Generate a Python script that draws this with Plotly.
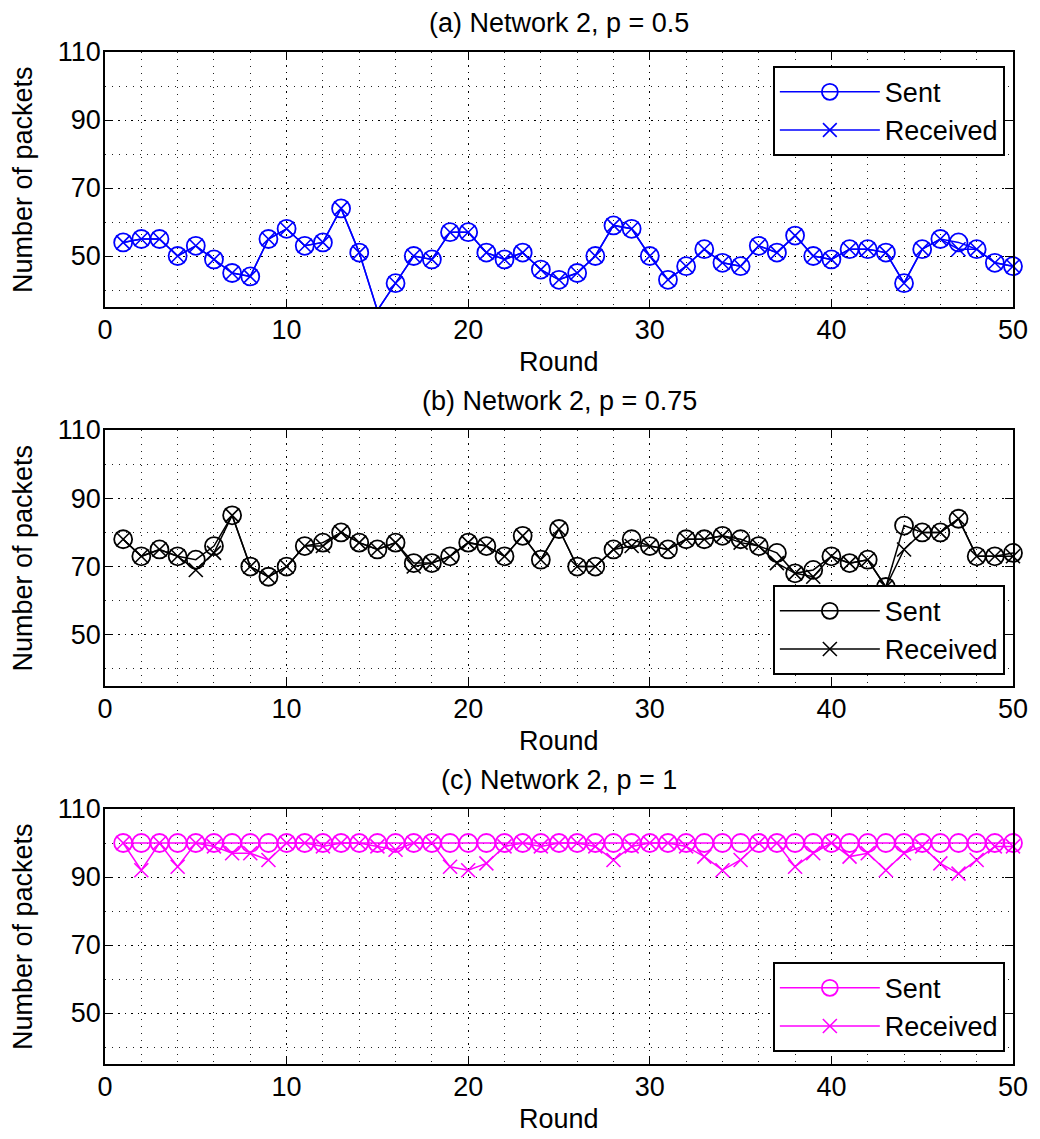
import plotly.graph_objects as go

rounds = list(range(1, 51))

sent_a = [54, 55, 55, 50, 53, 49, 45, 44, 55, 58,
          53, 54, 64, 51, 34, 42, 50, 49, 57, 57,
          51, 49, 51, 46, 43, 45, 50, 59, 58, 50,
          43, 47, 52, 48, 47, 53, 51, 56, 50, 49,
          52, 52, 51, 42, 52, 55, 54, 52, 48, 47]
recv_a = [54, 55, 55, 50, 53, 49, 45, 44, 55, 58,
          53, 54, 64, 51, 34, 42, 50, 49, 57, 57,
          51, 49, 51, 46, 43, 45, 50, 59, 58, 50,
          43, 47, 52, 48, 47, 53, 51, 56, 50, 49,
          52, 52, 51, 42, 52, 55, 52, 52, 48, 47]

sent_b = [78, 73, 75, 73, 72, 76, 85, 70, 67, 70,
          76, 77, 80, 77, 75, 77, 71, 71, 73, 77,
          76, 73, 79, 72, 81, 70, 70, 75, 78, 76,
          75, 78, 78, 79, 78, 76, 74, 68, 69, 73,
          71, 72, 64, 82, 80, 80, 84, 73, 73, 74]
recv_b = [78, 73, 75, 73, 69, 74, 85, 70, 67, 70,
          76, 76, 80, 77, 75, 77, 70, 71, 73, 77,
          76, 73, 79, 72, 81, 70, 70, 75, 76, 76,
          75, 78, 78, 79, 77, 76, 71, 68, 67, 73,
          71, 72, 64, 75, 80, 80, 84, 73, 73, 73]

sent_c = [100] * 50
recv_c = [100, 92, 100, 93, 100, 99, 97, 97, 95, 100,
          100, 99, 100, 100, 99, 98, 100, 100, 93, 92,
          94, 99, 100, 99, 100, 100, 99, 95, 99, 100,
          100, 99, 96, 92, 95, 100, 100, 93, 97, 100,
          96, 97, 92, 97, 99, 94, 91, 95, 99, 99]

titles = ["(a) Network 2, p = 0.5", "(b) Network 2, p = 0.75", "(c) Network 2, p = 1"]
series_names = ["Sent", "Received"]
x_label = "Round"
y_label = "Number of packets"

X_RANGE = [0, 50]
Y_RANGE = [35, 110]

W, H = 1040, 1139
ML, MR, MT, MB = 105, 21, 52, 75
PW = W - ML - MR
PH = H - MT - MB
BOTTOM = H - MB

def py(Y):
    return (BOTTOM - Y) / PH

def px(X):
    return (X - ML) / PW

FONT = "Liberation Sans, Arial, Helvetica, sans-serif"
FS = 27

panels = [
    dict(sent=sent_a, recv=recv_a, color="#0000FF", top=52, bot=307,
         leg=dict(yanchor="top", y=py(66))),
    dict(sent=sent_b, recv=recv_b, color="#000000", top=430, bot=686,
         leg=dict(yanchor="bottom", y=py(675))),
    dict(sent=sent_c, recv=recv_c, color="#FF00FF", top=809, bot=1064,
         leg=dict(yanchor="bottom", y=py(1052))),
]

def sizes(vals, s):
    return [s if Y_RANGE[0] <= v <= Y_RANGE[1] else 0 for v in vals]

fig = go.Figure()
layout = dict(
    width=W, height=H,
    margin=dict(l=ML, r=MR, t=MT, b=MB, pad=0),
    paper_bgcolor="white", plot_bgcolor="white",
    font=dict(family=FONT, size=FS, color="black"),
    showlegend=True,
    annotations=[],
)

for i, p in enumerate(panels):
    n = "" if i == 0 else str(i + 1)
    leg = "legend" + n
    fig.add_trace(go.Scatter(
        x=rounds, y=p["sent"], name=series_names[0], mode="lines+markers",
        xaxis="x" + n, yaxis="y" + n, legend=leg, cliponaxis=False,
        line=dict(color=p["color"], width=1.5),
        marker=dict(symbol="circle-open", size=sizes(p["sent"], 18), opacity=1,
                    color=p["color"], line=dict(color=p["color"], width=1.8)),
    ))
    fig.add_trace(go.Scatter(
        x=rounds, y=p["recv"], name=series_names[1], mode="lines+markers",
        xaxis="x" + n, yaxis="y" + n, legend=leg, cliponaxis=False,
        line=dict(color=p["color"], width=1.5),
        marker=dict(symbol="x-thin-open", size=sizes(p["recv"], 14), opacity=1,
                    color=p["color"], line=dict(color=p["color"], width=1.6)),
    ))
    dom = [py(p["bot"]), py(p["top"])]
    common = dict(
        showline=True, linecolor="black", linewidth=1.8, mirror="ticks",
        ticks="inside", ticklen=8, tickwidth=1.2, tickcolor="black",
        showgrid=True, gridcolor="black", gridwidth=1.3, griddash="1.5px,5px",
        zeroline=False, tickfont=dict(family=FONT, size=FS, color="black"),
    )
    layout["xaxis" + n] = dict(
        common, range=X_RANGE, tickmode="linear", tick0=0, dtick=10,
        anchor="y" + n, domain=[0, 1], ticklabelstandoff=-2,
        minor=dict(dtick=2, tick0=0, showgrid=True, gridcolor="#222",
                   gridwidth=1, griddash="1px,6px", ticks=""),
    )
    layout["yaxis" + n] = dict(
        common, range=Y_RANGE, tickmode="linear", tick0=10, dtick=20,
        anchor="x" + n, domain=dom, ticklabelstandoff=-3,
        minor=dict(dtick=10, tick0=0, showgrid=True, gridcolor="#222",
                   gridwidth=1, griddash="1px,6px", ticks=""),
    )
    layout[leg] = dict(
        x=px(1011), xanchor="right", xref="paper", yref="paper",
        bgcolor="white", bordercolor="black", borderwidth=1.8,
        font=dict(family=FONT, size=FS, color="black"),
        itemwidth=100, tracegroupgap=0, **p["leg"],
    )
    layout["annotations"] += [
        dict(text=titles[i], xref="paper", yref="paper", x=0.5, y=py(p["top"] - 29),
             xanchor="center", yanchor="middle", showarrow=False,
             font=dict(family=FONT, size=FS, color="black")),
        dict(text=x_label, xref="paper", yref="paper", x=px(562), y=py(p["bot"] + 55),
             xanchor="center", yanchor="middle", showarrow=False,
             font=dict(family=FONT, size=FS, color="black")),
        dict(text=y_label, xref="paper", yref="paper", x=px(22),
             y=py((p["top"] + p["bot"]) / 2), textangle=-90,
             xanchor="center", yanchor="middle", showarrow=False,
             font=dict(family=FONT, size=FS, color="black")),
    ]

fig.update_layout(**layout)
fig.write_html("out.html")
